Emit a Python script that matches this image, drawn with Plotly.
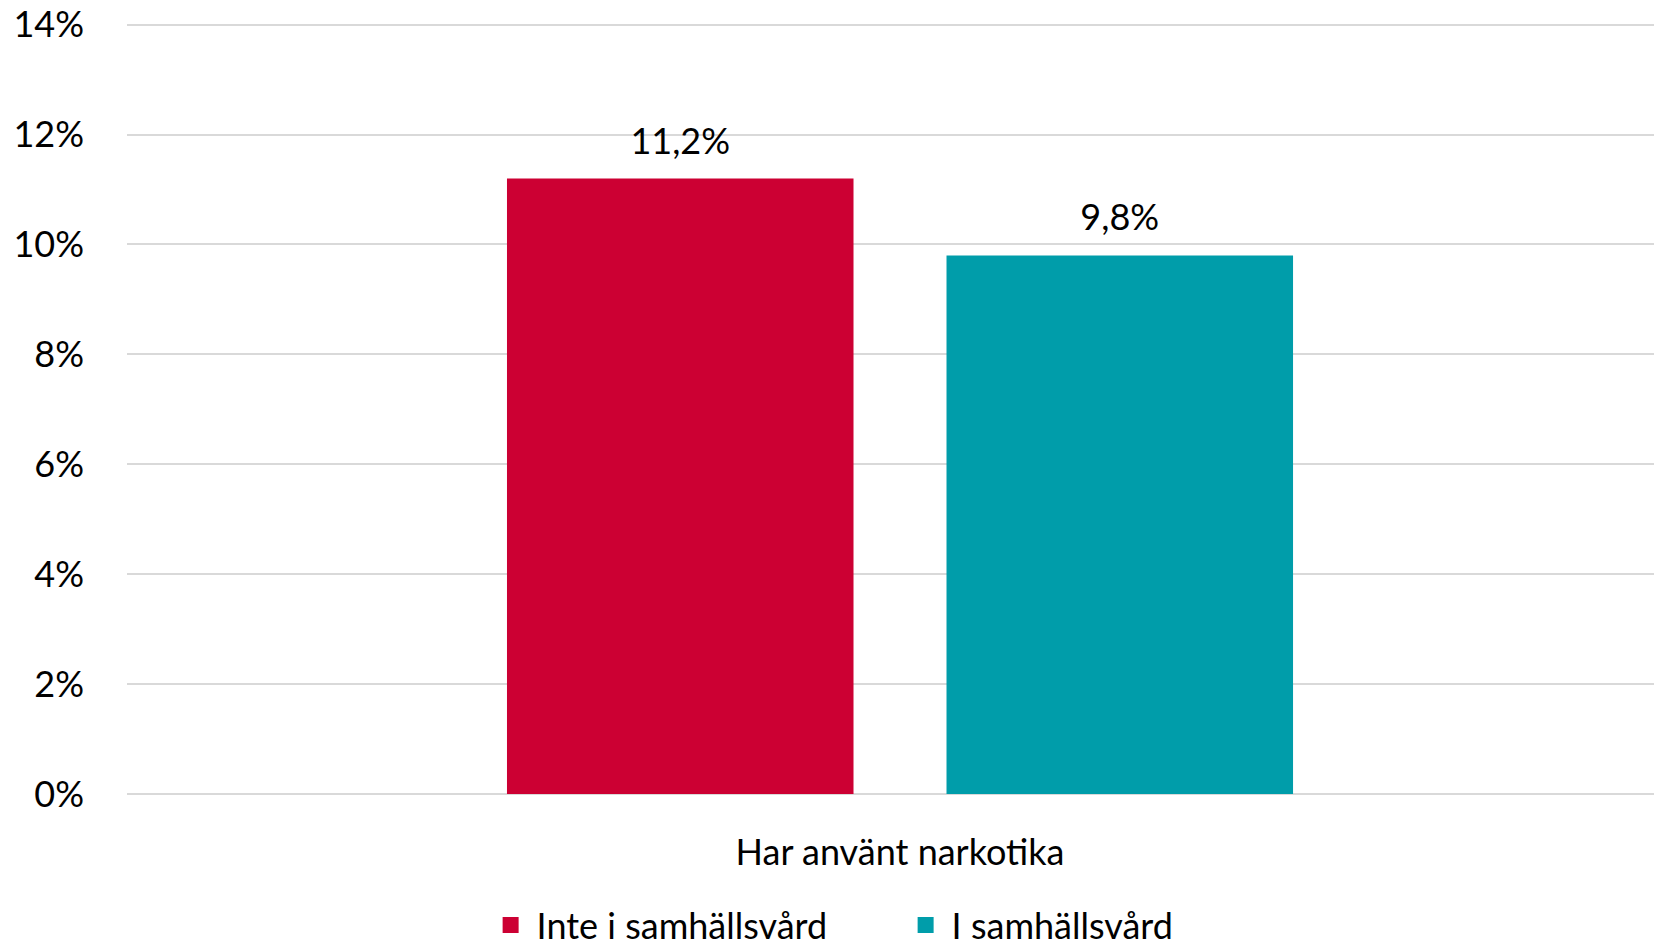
import plotly.graph_objects as go

# data
categories = ["Har använt narkotika"]
series_names = ["Inte i samhällsvård", "I samhällsvård"]
series_values = [[11.2], [9.8]]
series_colors = ["#CC0033", "#009DAA"]
y_ticks = [0, 2, 4, 6, 8, 10, 12, 14]
y_ticktext = [f"{v}%" for v in y_ticks]

FONT = "Lato, Calibri, 'Liberation Sans', sans-serif"

fig = go.Figure()
for i, (name, vals, color) in enumerate(zip(series_names, series_values, series_colors)):
    grp = f"g{i}"
    fig.add_trace(go.Bar(
        x=categories, y=vals, name=name, showlegend=False,
        offsetgroup=grp,
        marker=dict(color=color, line=dict(width=0)),
        hoverinfo="skip",
    ))
    # value label sitting a bit higher above the bar than bar text would
    fig.add_trace(go.Scatter(
        x=categories, y=vals, mode="markers+text", showlegend=False,
        offsetgroup=grp,
        marker=dict(size=24, color="rgba(0,0,0,0)"),
        text=[f"{v:.1f}%".replace(".", ",") for v in vals],
        textposition="top center",
        textfont=dict(size=36, color="#000000"),
        cliponaxis=False, hoverinfo="skip",
    ))
    # legend-only entry
    fig.add_trace(go.Scatter(
        x=[None], y=[None], name=name, mode="markers", offsetgroup=grp,
        marker=dict(symbol="square", size=24, color=color),
    ))

fig.update_layout(
    width=1654, height=946,
    margin=dict(l=127, r=0, t=23, b=152, autoexpand=False),
    paper_bgcolor="white", plot_bgcolor="white",
    font=dict(family=FONT, size=36, color="#000000"),
    separators=", ",
    barmode="group", scattermode="group",
    bargap=0.4314, bargroupgap=0.2116, scattergap=0.4314,
    showlegend=True,
    legend=dict(orientation="h", x=0.293, xanchor="left", xref="container",
                y=0.022, yanchor="middle", yref="container",
                font=dict(size=36), itemsizing="trace", itemwidth=42,
                entrywidth=358, tracegroupgap=0),
    xaxis=dict(type="category", range=[-0.5, 0.4877], showgrid=False,
               showline=False, ticks="", tickfont=dict(size=36),
               ticklabelstandoff=34),
    # a hair above 14 so the top gridline is drawn
    yaxis=dict(range=[0, 14.03], tickvals=y_ticks, ticktext=y_ticktext,
               showgrid=True, gridcolor="#d9d9d9", gridwidth=2,
               zeroline=True, zerolinecolor="#d9d9d9", zerolinewidth=2,
               showline=False, ticks="", tickfont=dict(size=36),
               ticklabelstandoff=42),
)

# the page body has a default 8px margin; drop it so the figure fills the window
fig.write_html("out.html", config={"displayModeBar": False},
               post_script="document.body.style.margin='0';")
